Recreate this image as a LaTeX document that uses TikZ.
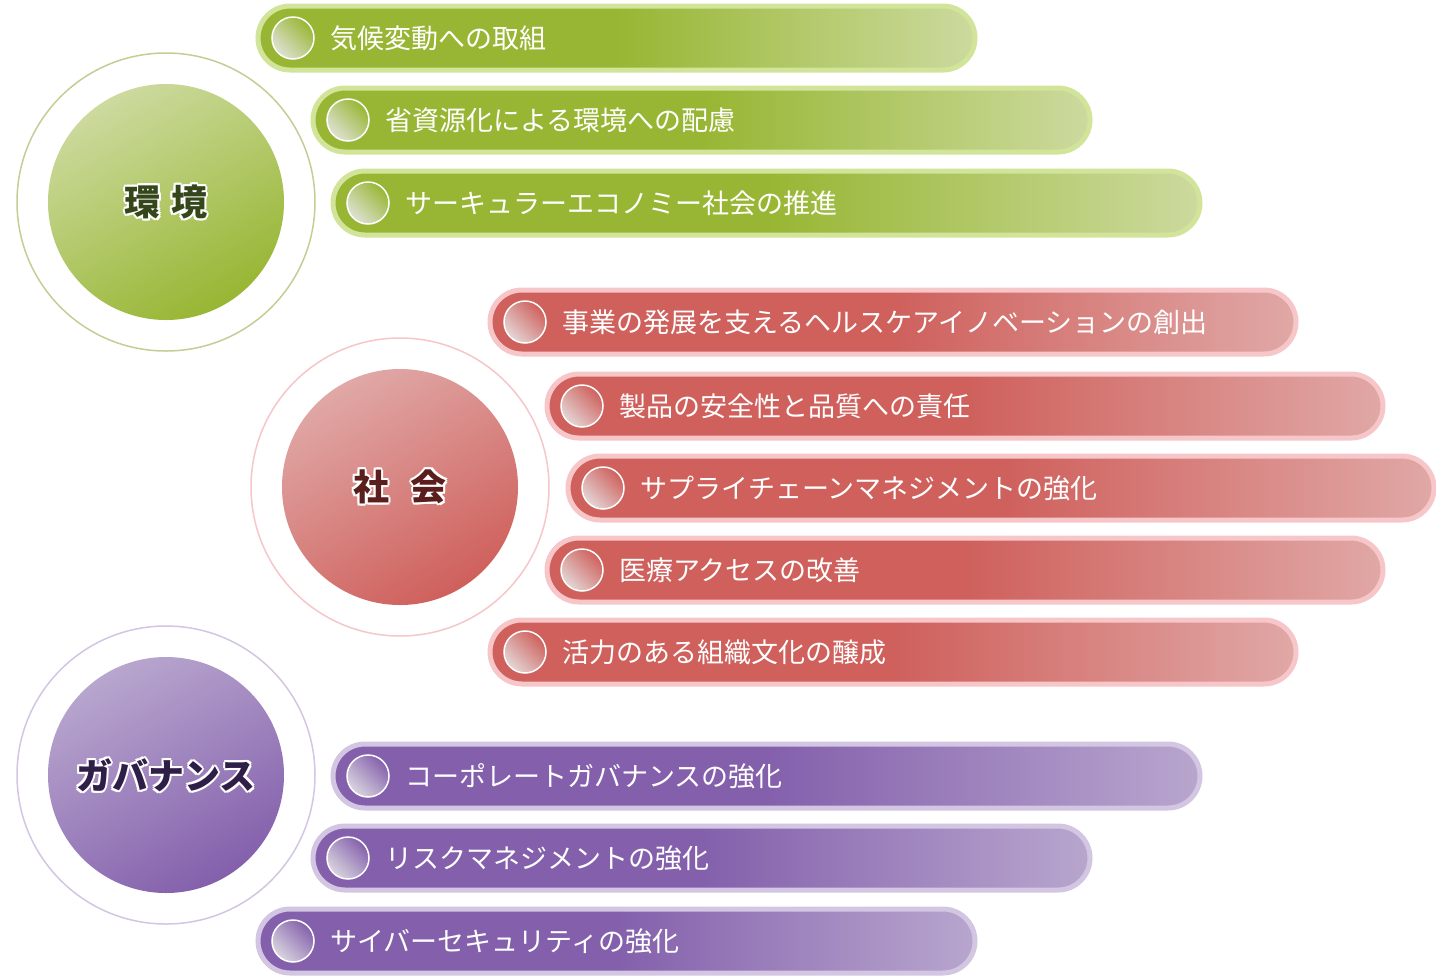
\documentclass[tikz,border=0pt]{standalone}
\usepackage{fontspec}
\setmainfont{Noto Sans CJK JP}
\usetikzlibrary{shadings}
\definecolor{gA}{HTML}{98B633}\definecolor{gB}{HTML}{CCDA9E}\definecolor{gL}{HTML}{D2E39A}
\definecolor{rA}{HTML}{CF605C}\definecolor{rB}{HTML}{E0A8A6}\definecolor{rL}{HTML}{F6C6C8}
\definecolor{pA}{HTML}{8460AC}\definecolor{pB}{HTML}{B8A6CE}\definecolor{pL}{HTML}{D2C6E2}
\definecolor{gT}{HTML}{34461A}\definecolor{rT}{HTML}{5A1E1C}\definecolor{pT}{HTML}{2E1E48}
\newcommand\olay[2]{\makebox[0pt]{\color{white}\raisebox{2pt}{#2}}\makebox[0pt]{\color{white}\raisebox{-2pt}{#2}}\makebox[0pt]{\color{white}\hspace{4pt}#2}\makebox[0pt]{\color{white}\hspace{-4pt}#2}\makebox[0pt]{\color{white}\hspace{3pt}\raisebox{2pt}{#2}}\makebox[0pt]{\color{white}\hspace{-3pt}\raisebox{-2pt}{#2}}\makebox[0pt]{\color{white}\hspace{3pt}\raisebox{-2pt}{#2}}\makebox[0pt]{\color{white}\hspace{-3pt}\raisebox{2pt}{#2}}\makebox[0pt]{\color{#1}#2}}
\tikzset{
  pillbar/.style n args={3}{rounded corners=32pt, draw=#3, line width=5pt, left color=#1, right color=#2, middle color=#1},
  dot/.style={circle, draw=white, line width=1.5pt, minimum size=42pt, inner sep=0pt},
  itemtxt/.style={anchor=west, text=white, font=\fontsize{27}{30}\selectfont, inner sep=0pt},
  bigtxt/.style={font=\bfseries\fontsize{36}{40}\selectfont},
}
\newcommand\pill[8]{%
  \path[pillbar={#5}{#6}{#7}] (#2,#4-32) rectangle (#3,#4+32);
  \node[dot, left color=#6!60!gray!40, right color=#5, shading angle=135] (#1d) at (#2+35,#4) {};
  \node[itemtxt] (#1) at (#2+72,#4) {#8};
}
\begin{document}
\begin{tikzpicture}[x=1pt,y=-1pt]
\useasboundingbox (0,0) rectangle (1436,978);
% environment
\node[circle, draw=gL!80!gray, line width=1.5pt, fill=white, minimum size=298pt] (envo) at (166,202) {};
\shade[top color=gB, bottom color=gA, shading angle=30] (166,202) circle (118);
\node[bigtxt] (env) at (166,202) {\olay{gT}{環\hspace{0.3em}境}};
\pill{e1}{258}{975}{38}{gA}{gB}{gL}{気候変動への取組}
\pill{e2}{313}{1090}{120}{gA}{gB}{gL}{省資源化による環境への配慮}
\pill{e3}{333}{1200}{203}{gA}{gB}{gL}{サーキュラーエコノミー社会の推進}
% society
\node[circle, draw=rL, line width=1.5pt, fill=white, minimum size=298pt] (soco) at (400,487) {};
\shade[top color=rB, bottom color=rA, shading angle=30] (400,487) circle (118);
\node[bigtxt] (soc) at (400,487) {\olay{rT}{社\hspace{0.6em}会}};
\pill{s1}{490}{1296}{322}{rA}{rB}{rL}{事業の発展を支えるヘルスケアイノベーションの創出}
\pill{s2}{547}{1383}{406}{rA}{rB}{rL}{製品の安全性と品質への責任}
\pill{s3}{568}{1434}{488}{rA}{rB}{rL}{サプライチェーンマネジメントの強化}
\pill{s4}{547}{1383}{570}{rA}{rB}{rL}{医療アクセスの改善}
\pill{s5}{490}{1296}{652}{rA}{rB}{rL}{活力のある組織文化の醸成}
% governance
\node[circle, draw=pL, line width=1.5pt, fill=white, minimum size=298pt] (govo) at (166,775) {};
\shade[top color=pB, bottom color=pA, shading angle=30] (166,775) circle (118);
\node[bigtxt] (gov) at (166,775) {\olay{pT}{ガバナンス}};
\pill{g1}{333}{1200}{776}{pA}{pB}{pL}{コーポレートガバナンスの強化}
\pill{g2}{313}{1090}{858}{pA}{pB}{pL}{リスクマネジメントの強化}
\pill{g3}{258}{975}{941}{pA}{pB}{pL}{サイバーセキュリティの強化}
\end{tikzpicture}
\end{document}
